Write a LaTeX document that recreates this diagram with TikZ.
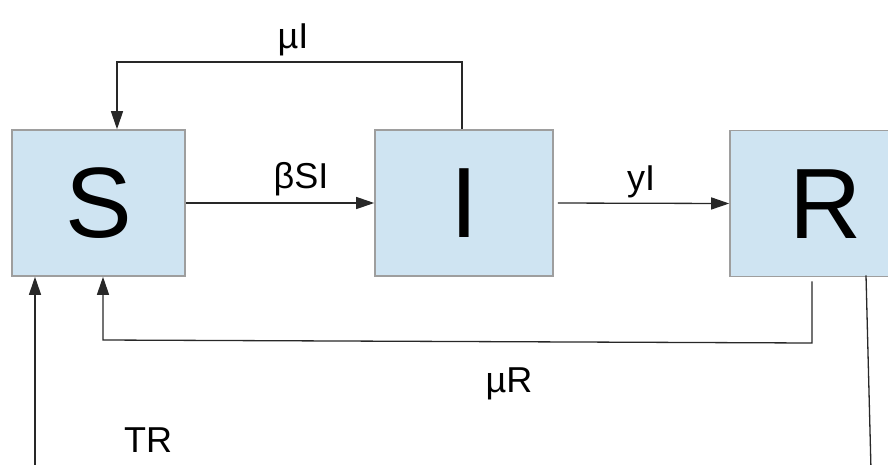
\documentclass[tikz,border=0pt]{standalone}
\usepackage{fontspec}
\setmainfont{Liberation Sans}
\usetikzlibrary{arrows.meta,calc}
\definecolor{boxfill}{RGB}{207,228,242}
\definecolor{boxline}{RGB}{158,158,158}
\definecolor{lineclr}{RGB}{40,40,40}
\tikzset{
  compbox/.style={draw=boxline, line width=1.6pt, fill=boxfill, minimum width=173pt, minimum height=146pt, inner sep=0pt, font=\fontsize{100}{100}\selectfont},
  flow/.style={draw=lineclr, line width=1.3pt, -{Triangle[length=18pt,width=12pt]}},
  plainflow/.style={draw=lineclr, line width=1.3pt},
  lbl/.style={font=\fontsize{36}{36}\selectfont, anchor=base, inner sep=0pt}
}
\begin{document}
\begin{tikzpicture}[x=1pt,y=-1pt]
\useasboundingbox (0,0) rectangle (888,464);
\clip (0,0) rectangle (888,464);
\node[compbox] (S) at (98.5,203) {S};
\node[compbox, minimum width=178pt] (I) at (464,203) {I};
\node[compbox, minimum width=178pt] (R) at (819,203.5) {};
\node[font=\fontsize{100}{100}\selectfont, inner sep=0pt] (Rl) at (826,204) {R};
% mu I loop
\coordinate (muItop) at (117,62);
\draw[flow] ($(I.north)+(-2,0)$) |- (muItop) -- (S.north -| muItop);
% beta SI
\draw[flow] (S.east) -- (I.west);
% gamma I
\draw[flow, shorten <=4pt] (I.east) -- (R.west);
% mu R
\coordinate (muRcorner) at (812,343);
\coordinate (muRleft) at (103,340);
\draw[flow] ($(R.south -| muRcorner)+(0,4)$) -- (muRcorner) -- (muRleft) -- (S.south -| muRleft);
% T R
\coordinate (TRstart) at (35,470);
\coordinate (TRend) at (871,470);
\draw[flow] (TRstart) -- (S.south -| TRstart);
\draw[plainflow] ($(R.south -| 866,0)+(0,-2)$) -- (TRend);
% labels
\node[lbl] (lmuI) at (293,48) {µI};
\node[lbl] (lbSI) at (301,188) {βSI};
\node[lbl] (lyI) at (641,190) {yI};
\node[lbl] (lmuR) at (509,392) {µR};
\node[lbl] (lTR) at (148,452) {TR};
\end{tikzpicture}
\end{document}
